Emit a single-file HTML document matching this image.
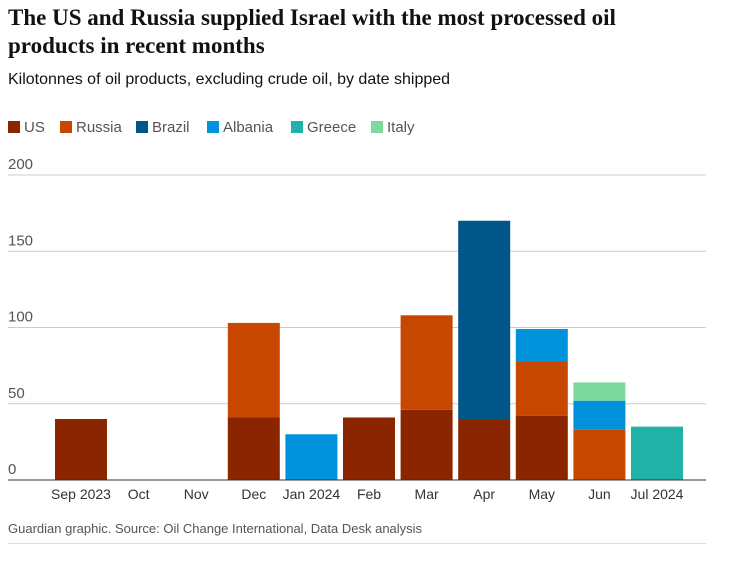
<!DOCTYPE html>
<html><head><meta charset="utf-8"><style>
body{margin:0;background:#fff;width:753px;height:563px;overflow:hidden;font-family:"Liberation Sans",sans-serif}
h1{position:absolute;left:8px;top:4px;margin:0;width:665px;font-family:"Liberation Serif",serif;font-weight:bold;font-size:23px;line-height:28px;color:#121212}
.sub{position:absolute;left:8px;top:71px;font-size:16px;color:#121212}
.src{position:absolute;left:8px;top:521px;font-size:13px;color:#555}
</style></head><body>
<h1>The US and Russia supplied Israel with the most processed oil products in recent months</h1>
<div class="sub">Kilotonnes of oil products, excluding crude oil, by date shipped</div>
<svg id="c" width="753" height="563" style="position:absolute;left:0;top:0"></svg>
<div class="src">Guardian graphic. Source: Oil Change International, Data Desk analysis</div>
<div style="position:absolute;left:8px;top:543px;width:698px;height:1px;background:#ddd"></div>
<script>
const months=["Sep 2023","Oct","Nov","Dec","Jan 2024","Feb","Mar","Apr","May","Jun","Jul 2024"];
const seriesNames=["US","Russia","Brazil","Albania","Greece","Italy"];
const US=[40,0,0,41,0,41,46,40,42,0,0];
const Russia=[0,0,0,62,0,0,62,0,36,33,0];
const Brazil=[0,0,0,0,0,0,0,130,0,0,0];
const Albania=[0,0,0,0,30,0,0,0,21,19,0];
const Greece=[0,0,0,0,0,0,0,0,0,0,35];
const Italy=[0,0,0,0,0,0,0,0,0,12,0];
const yTicks=[0,50,100,150,200];
const colors=["#8b2500","#c74600","#005689","#0093db","#22b3a8","#7dd9a0"];
const series=[US,Russia,Brazil,Albania,Greece,Italy];
const svg=document.getElementById('c');const NS="http://www.w3.org/2000/svg";
const y=v=>480-v*1.525;const x=i=>81+i*57.6;
function mk(t,a){const e=document.createElementNS(NS,t);for(const k in a)e.setAttribute(k,a[k]);svg.appendChild(e);return e;}
const lx=[8,60,136,207,291,371];
seriesNames.forEach((n,i)=>{
const r=mk('rect',{x:lx[i],y:121,width:12,height:12,fill:colors[i]});


const t=mk('text',{x:lx[i]+16,y:132,'font-size':15,fill:'#555','font-family':'Liberation Sans, sans-serif'});t.textContent=n;


});
yTicks.forEach(v=>{
const l=mk('line',{x1:8,x2:706,y1:y(v),y2:y(v),stroke:v===0?'#333':'#ccc','stroke-width':1});


const t=mk('text',{x:8,y:y(v)-6,'font-size':15,fill:'#555'});t.textContent=v;


});
months.forEach((m,i)=>{
let base=0;
series.forEach((s,k)=>{if(s[i]>0){
const r=mk('rect',{x:x(i)-26,y:y(base+s[i]),width:52,height:s[i]*1.525,fill:colors[k]});


base+=s[i];}});
const t=mk('text',{x:x(i),y:499,'font-size':14,fill:'#333','text-anchor':'middle'});t.textContent=m;


});
mk('line',{x1:8,x2:706,y1:480,y2:480,stroke:'#333','stroke-width':1});
</script>
</body></html>
